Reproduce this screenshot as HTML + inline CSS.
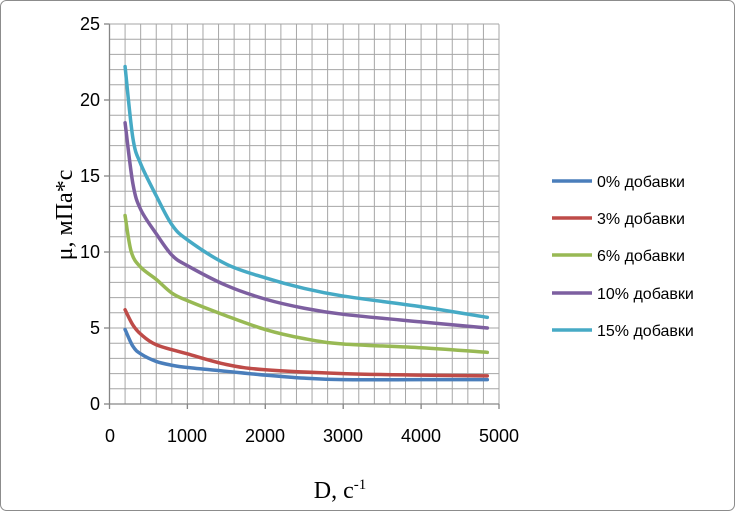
<!DOCTYPE html>
<html><head><meta charset="utf-8"><style>
body{margin:0;background:#fff;}
svg{display:block;font-family:"Liberation Sans",sans-serif;}
</style></head><body>
<svg id="s" width="735" height="511" viewBox="0 0 735 511">
<rect x="0.5" y="0.5" width="734" height="510" rx="6" fill="#fff" stroke="#8c8c8c"/>
<g id="grid"></g>
<g id="curves" fill="none" stroke-width="3.5" stroke-linejoin="round" stroke-linecap="round"></g>
<g font-size="18" fill="#000" text-anchor="end">
<text x="100" y="410">0</text><text x="100" y="334">5</text><text x="100" y="258">10</text>
<text x="100" y="182">15</text><text x="100" y="106">20</text><text x="100" y="30">25</text>
</g>
<g font-size="18" fill="#000" text-anchor="middle">
<text x="110" y="442">0</text><text x="187" y="442">1000</text><text x="265" y="442">2000</text>
<text x="343" y="442">3000</text><text x="421" y="442">4000</text><text x="499" y="442">5000</text>
</g>
<text x="340" y="498" text-anchor="middle" font-family="Liberation Serif,serif" font-size="24">D, с<tspan font-size="15" dy="-9">-1</tspan></text>
<text transform="translate(72,215) rotate(-90)" text-anchor="middle" font-family="Liberation Serif,serif" font-size="24">μ, мПа*с</text>
<g font-size="16" fill="#000" stroke-width="3.5">
<line x1="552" y1="181" x2="592" y2="181" stroke="#4a7ebb"/><text x="597" y="187">0% добавки</text>
<line x1="552" y1="218" x2="592" y2="218" stroke="#be4b48"/><text x="597" y="224">3% добавки</text>
<line x1="552" y1="255" x2="592" y2="255" stroke="#98b954"/><text x="597" y="261">6% добавки</text>
<line x1="552" y1="293" x2="592" y2="293" stroke="#7d5fa0"/><text x="597" y="299">10% добавки</text>
<line x1="552" y1="330" x2="592" y2="330" stroke="#46aac5"/><text x="597" y="336">15% добавки</text>
</g>
</svg>
<script>
var X=v=>109.5+0.0779*v, Y=v=>404-15.2*v, g=document.getElementById('grid'), h='';
for(var i=0;i<=25;i++){var y=Y(i);var maj=i%5==0;h+='<line x1="'+(maj?104:109.5)+'" y1="'+y+'" x2="499" y2="'+y+'" stroke="#a6a6a6" stroke-width="1"/>';}
for(var i=0;i<=25;i++){var x=X(i*200);var maj=i%5==0;h+='<line x1="'+x+'" y1="24.3" x2="'+x+'" y2="'+(maj?409:404)+'" stroke="#a6a6a6" stroke-width="1"/>';}
h+='<line x1="109.5" y1="24.3" x2="109.5" y2="404" stroke="#868686" stroke-width="1.3"/>';
h+='<line x1="109.5" y1="404" x2="499" y2="404" stroke="#868686" stroke-width="1.3"/>';
for(var i=0;i<=5;i++){h+='<line x1="104" y1="'+Y(i*5)+'" x2="109.5" y2="'+Y(i*5)+'" stroke="#868686" stroke-width="1.3"/>';h+='<line x1="'+X(i*1000)+'" y1="404" x2="'+X(i*1000)+'" y2="409" stroke="#868686" stroke-width="1.3"/>';}
g.innerHTML=h;
var D=[
['#4a7ebb',[[200,4.9],[300,3.8],[400,3.3],[600,2.8],[800,2.55],[1000,2.4],[1500,2.15],[2000,1.9],[2500,1.7],[3000,1.6],[4000,1.6],[4850,1.6]]],
['#be4b48',[[200,6.2],[300,5.2],[400,4.6],[600,3.9],[1000,3.3],[1500,2.6],[2000,2.25],[3000,2.0],[4000,1.9],[4850,1.85]]],
['#98b954',[[200,12.4],[280,10],[400,9.0],[600,8.2],[800,7.3],[1000,6.8],[1500,5.8],[2000,4.9],[2500,4.3],[3000,3.95],[4000,3.7],[4850,3.4]]],
['#7d5fa0',[[200,18.5],[300,14.5],[400,12.8],[600,11.2],[800,9.8],[1000,9.1],[1500,7.8],[2000,6.9],[2500,6.3],[3000,5.9],[4000,5.4],[4850,5.0]]],
['#46aac5',[[200,22.2],[300,17.5],[400,15.8],[600,13.7],[800,11.8],[1000,10.8],[1500,9.2],[2000,8.3],[2500,7.6],[3000,7.1],[4000,6.4],[4850,5.7]]]];
var c='';
D.forEach(function(s){var p=s[1].map(q=>[X(q[0]),Y(q[1])]);var d='M'+p[0];
for(var i=0;i<p.length-1;i++){var a=p[i-1]||p[i],b=p[i],e=p[i+1],f=p[i+2]||e;
d+='C'+[b[0]+(e[0]-a[0])/6,b[1]+(e[1]-a[1])/6]+' '+[e[0]-(f[0]-b[0])/6,e[1]-(f[1]-b[1])/6]+' '+e;}
c+='<path d="'+d+'" stroke="'+s[0]+'"/>';});
document.getElementById('curves').innerHTML=c;
</script>
</body></html>
